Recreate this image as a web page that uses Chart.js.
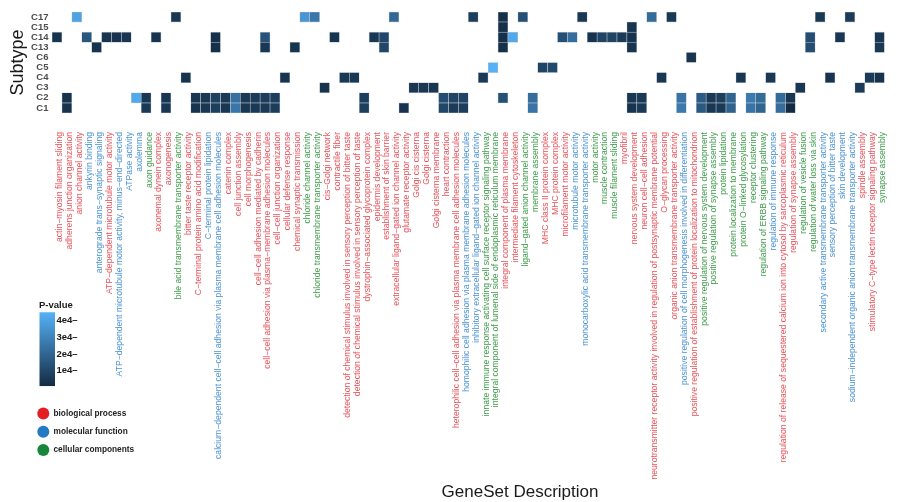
<!DOCTYPE html>
<html>
<head>
<meta charset="utf-8">
<script src="https://cdn.jsdelivr.net/npm/chart.js@4.4.1/dist/chart.umd.min.js"></script>
<style>
  html, body { margin: 0; padding: 0; background: #ffffff; }
  #wrap { width: 909px; height: 502px; }
</style>
</head>
<body>
<div id="wrap"><canvas id="heat" width="909" height="502"></canvas></div>
<script>
// Subtypes, bottom row first
const subtypes = ['C1', 'C2', 'C3', 'C4', 'C5', 'C6', 'C13', 'C14', 'C15', 'C17'];

// Gene set descriptions (x categories)
const geneSets = [
  'actin−myosin filament sliding', 'adherens junction organization', 'anion channel activity',
  'ankyrin binding', 'anterograde trans−synaptic signaling', 'ATP−dependent microtubule motor activity',
  'ATP−dependent microtubule motor activity, minus−end−directed', 'ATPase activity', 'axolemma',
  'axon guidance', 'axonemal dynein complex', 'axonogenesis', 'bile acid transmembrane transporter activity',
  'bitter taste receptor activity', 'C−terminal protein amino acid modification', 'C−terminal protein lipidation',
  'calcium−dependent cell−cell adhesion via plasma membrane cell adhesion molecules', 'catenin complex',
  'cell junction assembly', 'cell morphogenesis', 'cell−cell adhesion mediated by cadherin',
  'cell−cell adhesion via plasma−membrane adhesion molecules', 'cell−cell junction organization',
  'cellular defense response', 'chemical synaptic transmission', 'chloride channel activity',
  'chloride transmembrane transporter activity', 'cis−Golgi network', 'contractile fiber',
  'detection of chemical stimulus involved in sensory perception of bitter taste',
  'detection of chemical stimulus involved in sensory perception of taste',
  'dystrophin−associated glycoprotein complex', 'epidermis development', 'establishment of skin barrier',
  'extracellular ligand−gated ion channel activity', 'glutamate receptor activity', 'Golgi cis cisterna',
  'Golgi cisterna', 'Golgi cisterna membrane', 'heart contraction',
  'heterophilic cell−cell adhesion via plasma membrane cell adhesion molecules',
  'homophilic cell adhesion via plasma membrane adhesion molecules',
  'inhibitory extracellular ligand−gated ion channel activity',
  'innate immune response activating cell surface receptor signaling pathway',
  'integral component of lumenal side of endoplasmic reticulum membrane',
  'integral component of plasma membrane', 'intermediate filament cytoskeleton',
  'ligand−gated anion channel activity', 'membrane assembly', 'MHC class II protein complex',
  'MHC protein complex', 'microfilament motor activity', 'microtubule motor activity',
  'monocarboxylic acid transmembrane transporter activity', 'motor activity', 'muscle contraction',
  'muscle filament sliding', 'myofibril', 'nervous system development', 'neuron cell−cell adhesion',
  'neurotransmitter receptor activity involved in regulation of postsynaptic membrane potential',
  'O−glycan processing', 'organic anion transmembrane transporter activity',
  'positive regulation of cell morphogenesis involved in differentiation',
  'positive regulation of establishment of protein localization to mitochondrion',
  'positive regulation of nervous system development', 'positive regulation of synapse assembly',
  'protein lipidation', 'protein localization to membrane', 'protein O−linked glycosylation',
  'receptor clustering', 'regulation of ERBB signaling pathway', 'regulation of immune response',
  'regulation of release of sequestered calcium ion into cytosol by sarcoplasmic reticulum',
  'regulation of synapse assembly', 'regulation of vesicle fusion', 'regulation of water loss via skin',
  'secondary active transmembrane transporter activity', 'sensory perception of bitter taste',
  'skin development', 'sodium−independent organic anion transmembrane transporter activity',
  'spindle assembly', 'stimulatory C−type lectin receptor signaling pathway', 'synapse assembly'
];

// Ontology group of each gene set (BP / MF / CC)
const geneSetTypes = [
  'BP','BP','BP','MF','MF','BP','MF','MF','MF','CC','BP','BP','CC','BP','BP','MF',
  'MF','BP','BP','BP','BP','BP','BP','BP','BP','CC','CC','BP','BP','BP','BP',
  'BP','BP','BP','BP','BP','BP','BP','BP','BP','BP','MF','MF','CC','CC',
  'BP','BP','CC','CC','BP','BP','BP','MF','MF','CC','CC','CC','BP','BP','BP',
  'BP','BP','BP','MF','BP','CC','CC','CC','CC','CC','CC','CC','MF','BP','BP',
  'CC','CC','MF','MF','MF','MF','BP','BP','CC'
];

// P-values per subtype: [gene set index, value]
const pC17 = [[2, 40000], [12, 5000], [25, 36000], [26, 26000], [34, 21000], [42, 7000], [45, 2500],
  [47, 13000], [53, 5000], [60, 22000], [62, 5000], [77, 5000], [80, 6000]];
const pC15 = [[45, 2500], [58, 4000]];
const pC14 = [[0, 3500], [3, 15000], [5, 4000], [6, 4000], [7, 4500], [10, 4000], [16, 2500], [21, 14000],
  [28, 4000], [32, 5000], [33, 10000], [45, 2500], [46, 42000], [51, 13000], [52, 23000], [54, 3500],
  [55, 9000], [56, 9000], [57, 6000], [58, 3500], [76, 12000], [79, 4500], [83, 4500]];
const pC13 = [[4, 3500], [16, 2500], [21, 5000], [24, 4000], [33, 10000], [45, 2500], [58, 4000],
  [76, 12000], [83, 5000]];
const pC6 = [[64, 4000]];
const pC5 = [[44, 45000], [49, 9000], [50, 11000]];
const pC4 = [[13, 3500], [23, 4000], [29, 5000], [30, 5000], [43, 5500], [61, 4500], [69, 4500],
  [72, 5000], [78, 3500], [82, 6000], [83, 3500]];
const pC3 = [[27, 3500], [36, 4500], [37, 4500], [38, 4500], [75, 4500], [81, 6000]];
const pC2 = [[1, 3500], [8, 42000], [9, 4500], [11, 4500], [14, 4500], [15, 4500], [16, 8000], [17, 5500],
  [18, 24000], [19, 5500], [20, 6000], [21, 7000], [22, 7500], [31, 7500], [39, 12000], [40, 9000],
  [41, 9000], [45, 13000], [48, 23000], [58, 4500], [59, 5500], [63, 25000], [65, 17000], [66, 5500],
  [67, 7500], [68, 20000], [70, 27000], [71, 22000], [73, 22000], [74, 4500]];
const pC1 = [[1, 3500], [9, 5500], [11, 4500], [14, 3500], [15, 4500], [16, 7500], [17, 4500], [18, 26000],
  [19, 4500], [20, 5500], [21, 5500], [22, 6500], [31, 7500], [35, 3500], [39, 10000], [40, 6000],
  [41, 7000], [48, 25000], [58, 3500], [59, 5500], [63, 27000], [65, 16000], [66, 4500], [67, 5500],
  [68, 19000], [70, 25000], [71, 20000], [73, 23000], [74, 800]];

const pBySubtype = { C1: pC1, C2: pC2, C3: pC3, C4: pC4, C5: pC5, C6: pC6, C13: pC13, C14: pC14, C15: pC15, C17: pC17 };

// Colour scale limits and legend ticks
const pLimits = [800, 45000];
const pTicks = [10000, 20000, 30000, 40000];
const pTickLabels = ['1e4–', '2e4–', '3e4–', '4e4–'];
const typeNames = { BP: 'biological process', MF: 'molecular function', CC: 'cellular components' };

const LOW = [0x13, 0x2B, 0x43];
const HIGH = [0x56, 0xB1, 0xF7];
function pColor(v) {
  const t = Math.max(0, Math.min(1, (v - pLimits[0]) / (pLimits[1] - pLimits[0])));
  const c = LOW.map((l, i) => Math.round(l + (HIGH[i] - l) * t));
  return `rgb(${c[0]},${c[1]},${c[2]})`;
}
const labelColors = { BP: '#e8525a', MF: '#4a93d3', CC: '#3f9c4b' };
const dotColors = { BP: '#e41f22', MF: '#2279c4', CC: '#17863a' };

const FONT = '"Liberation Sans", Arial, Helvetica, sans-serif';

// One floating-bar dataset per subtype row
const datasets = subtypes.map((st, r) => {
  const lookup = new Map(pBySubtype[st]);
  return {
    label: st,
    data: geneSets.map((_, i) => lookup.has(i) ? [r - 0.5, r + 0.5] : null),
    backgroundColor: geneSets.map((_, i) => lookup.has(i) ? pColor(lookup.get(i)) : 'rgba(0,0,0,0)'),
    borderColor: 'rgba(185,195,205,0.9)',
    borderWidth: 0.6,
    borderSkipped: false,
    grouped: false,
    barPercentage: 1,
    categoryPercentage: 1
  };
});

// Colour bar, ontology key and x title
const sideLegend = {
  id: 'sideLegend',
  afterDraw(chart) {
    const ctx = chart.ctx;
    ctx.save();
    ctx.fillStyle = '#1a1a1a';
    ctx.textAlign = 'left';
    ctx.textBaseline = 'middle';
    ctx.font = `bold 9.5px ${FONT}`;
    ctx.fillText('P-value', 39, 305);

    const barLeft = 39.5, barW = 15.5;
    const yOf = v => 370.7 - (v - 10000) / 10000 * 16.7;
    const yTop = yOf(pLimits[1]), yBot = yOf(pLimits[0]);
    const g = ctx.createLinearGradient(0, yBot, 0, yTop);
    g.addColorStop(0, pColor(pLimits[0]));
    g.addColorStop(0.5, pColor((pLimits[0] + pLimits[1]) / 2));
    g.addColorStop(1, pColor(pLimits[1]));
    ctx.fillStyle = g;
    ctx.fillRect(barLeft, yTop, barW, yBot - yTop);

    ctx.fillStyle = '#1a1a1a';
    ctx.font = `bold 9.5px ${FONT}`;
    pTicks.forEach((v, i) => ctx.fillText(pTickLabels[i], 56.5, yOf(v)));

    ['BP', 'MF', 'CC'].forEach((k, i) => {
      const y = 413.5 + i * 18.3;
      ctx.beginPath();
      ctx.arc(43.3, y, 6, 0, Math.PI * 2);
      ctx.fillStyle = dotColors[k];
      ctx.fill();
      ctx.fillStyle = '#222222';
      ctx.font = `bold 8.3px ${FONT}`;
      ctx.fillText(typeNames[k], 53.5, y);
    });

    ctx.font = `17px ${FONT}`;
    ctx.textAlign = 'center';
    ctx.fillStyle = '#1a1a1a';
    ctx.fillText('GeneSet Description', 520, 492);
    ctx.restore();
  }
};

new Chart(document.getElementById('heat'), {
  type: 'bar',
  data: { labels: geneSets, datasets },
  options: {
    responsive: false,
    devicePixelRatio: 1,
    animation: false,
    layout: { padding: { top: 12, right: 2, bottom: 0, left: 0 } },
    plugins: { legend: { display: false }, tooltip: { enabled: false } },
    scales: {
      x: {
        type: 'category',
        grid: { display: false, drawTicks: false },
        border: { display: false },
        ticks: {
          autoSkip: false,
          maxRotation: 90,
          minRotation: 90,
          padding: 19,
          labelOffset: 3,
          font: { family: FONT, size: 8.65 },
          color: (c) => labelColors[geneSetTypes[c.index]]
        },
        afterFit(scale) { scale.height = 389; }
      },
      y: {
        type: 'linear',
        min: -0.5,
        max: 9.5,
        grid: { display: false, drawTicks: false },
        border: { display: false },
        afterBuildTicks(scale) { scale.ticks = subtypes.map((_, i) => ({ value: i })); },
        ticks: {
          autoSkip: false,
          padding: 3.5,
          font: { family: FONT, size: 9.5, weight: 'bold' },
          color: '#4d4d4d',
          callback: (v) => subtypes[v] ?? ''
        },
        title: {
          display: true,
          text: 'Subtype',
          font: { family: FONT, size: 18 },
          color: '#1a1a1a',
          padding: { top: 7, bottom: 0 }
        },
        afterFit(scale) { scale.width = 52; }
      }
    }
  },
  plugins: [sideLegend]
});
</script>
</body>
</html>
